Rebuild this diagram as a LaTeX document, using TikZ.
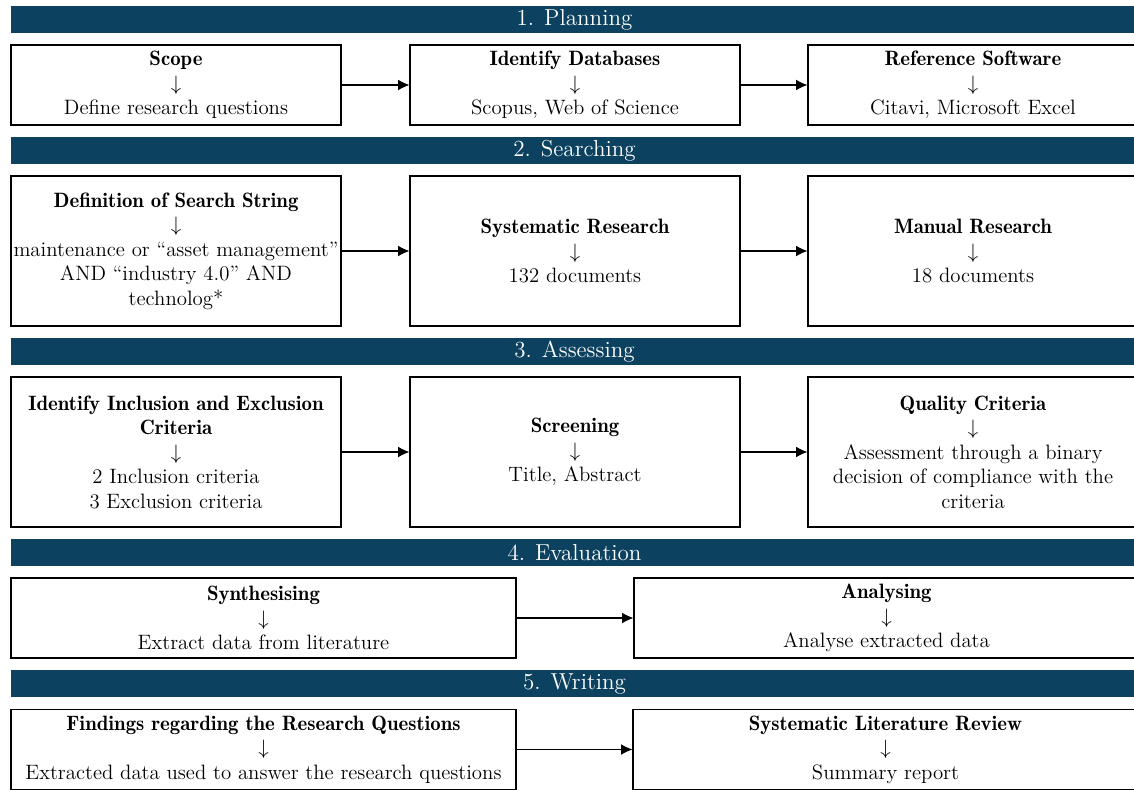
\documentclass[tikz,border=0pt]{standalone}
\usepackage{fontspec}
\usepackage{fix-cm}
\usetikzlibrary{arrows.meta}
\setmainfont{lmroman12-regular.otf}[BoldFont=lmroman12-bold.otf, ItalicFont=lmroman12-italic.otf]
\newfontfamily\demifont{lmromandemi10-regular.otf}
\newcommand{\ttl}[1]{{\demifont #1}}
\definecolor{barblue}{RGB}{12,65,96}
\begin{document}
\begin{tikzpicture}[x=0.75pt,y=-0.75pt,
  txt/.style={font=\fontsize{15.6}{18.4}\selectfont},
  bar/.style={font=\fontsize{17.3}{20}\selectfont, fill=barblue, text=white, inner sep=0pt,
    minimum width=845.25pt, minimum height=20.25pt},
  box/.style={txt, draw, line width=0.8pt, align=center, inner sep=0pt,
    execute at begin node={\rule{0pt}{14pt}}},
  shortbox/.style={box, minimum height=60pt},
  tallbox/.style={box, minimum height=112.5pt},
  third/.style={minimum width=247.5pt},
  half/.style={minimum width=378.75pt},
  flow/.style={line width=0.8pt, -{Latex[length=8.5pt,width=8pt]}}
]
\useasboundingbox (0,0) rectangle (1134,789);
\clip (0,0) rectangle (1134,789);

% phase headers
\node[bar] (h1) at (574.5,19.5)  {1. Planning};
\node[bar] (h2) at (574.5,150.5) {2. Searching};
\node[bar] (h3) at (574.5,351.5) {3. Assessing};
\node[bar] (h4) at (574.5,552.5) {4. Evaluation};
\node[bar] (h5) at (574.5,683.5) {5. Writing};

% 1. Planning
\node[shortbox, third] (p1) at (176,85)
  {\ttl{Scope}\\$\downarrow$\\Define research questions};
\node[shortbox, third] (p2) at (575,85)
  {\ttl{Identify Databases}\\$\downarrow$\\Scopus, Web of Science};
\node[shortbox, third] (p3) at (973,85)
  {\ttl{Reference Software}\\$\downarrow$\\Citavi, Microsoft Excel};

% 2. Searching
\node[tallbox, third] (s1) at (176,251)
  {\ttl{Definition of Search String}\\$\downarrow$\\maintenance or “asset management”\\AND “industry 4.0” AND\\technolog*};
\node[tallbox, third] (s2) at (575,251)
  {\ttl{Systematic Research}\\$\downarrow$\\132 documents};
\node[tallbox, third] (s3) at (973,251)
  {\ttl{Manual Research}\\$\downarrow$\\18 documents};

% 3. Assessing
\node[tallbox, third] (a1) at (176,452)
  {\ttl{Identify Inclusion and Exclusion}\\\ttl{Criteria}\\$\downarrow$\\2 Inclusion criteria\\3 Exclusion criteria};
\node[tallbox, third] (a2) at (575,452)
  {\ttl{Screening}\\$\downarrow$\\Title, Abstract};
\node[tallbox, third] (a3) at (973,452)
  {\ttl{Quality Criteria}\\$\downarrow$\\Assessment through a binary\\decision of compliance with the\\criteria};

% 4. Evaluation
\node[shortbox, half] (e1) at (263.5,618)
  {\ttl{Synthesising}\\$\downarrow$\\Extract data from literature};
\node[shortbox, half] (e2) at (886.5,618)
  {\ttl{Analysing}\\$\downarrow$\\Analyse extracted data};

% 5. Writing
\node[shortbox, half] (w1) at (263.5,749.5)
  {\ttl{Findings regarding the Research Questions}\\$\downarrow$\\Extracted data used to answer the research questions};
\node[shortbox, half] (w2) at (885.5,749.5)
  {\ttl{Systematic Literature Review}\\$\downarrow$\\Summary report};

% connectors
\draw[flow] (p1) -- (p2);
\draw[flow] (p2) -- (p3);
\draw[flow] (s1) -- (s2);
\draw[flow] (s2) -- (s3);
\draw[flow] (a1) -- (a2);
\draw[flow] (a2) -- (a3);
\draw[flow] (e1) -- (e2);
\draw[flow] (w1) -- (w2);
\end{tikzpicture}
\end{document}
